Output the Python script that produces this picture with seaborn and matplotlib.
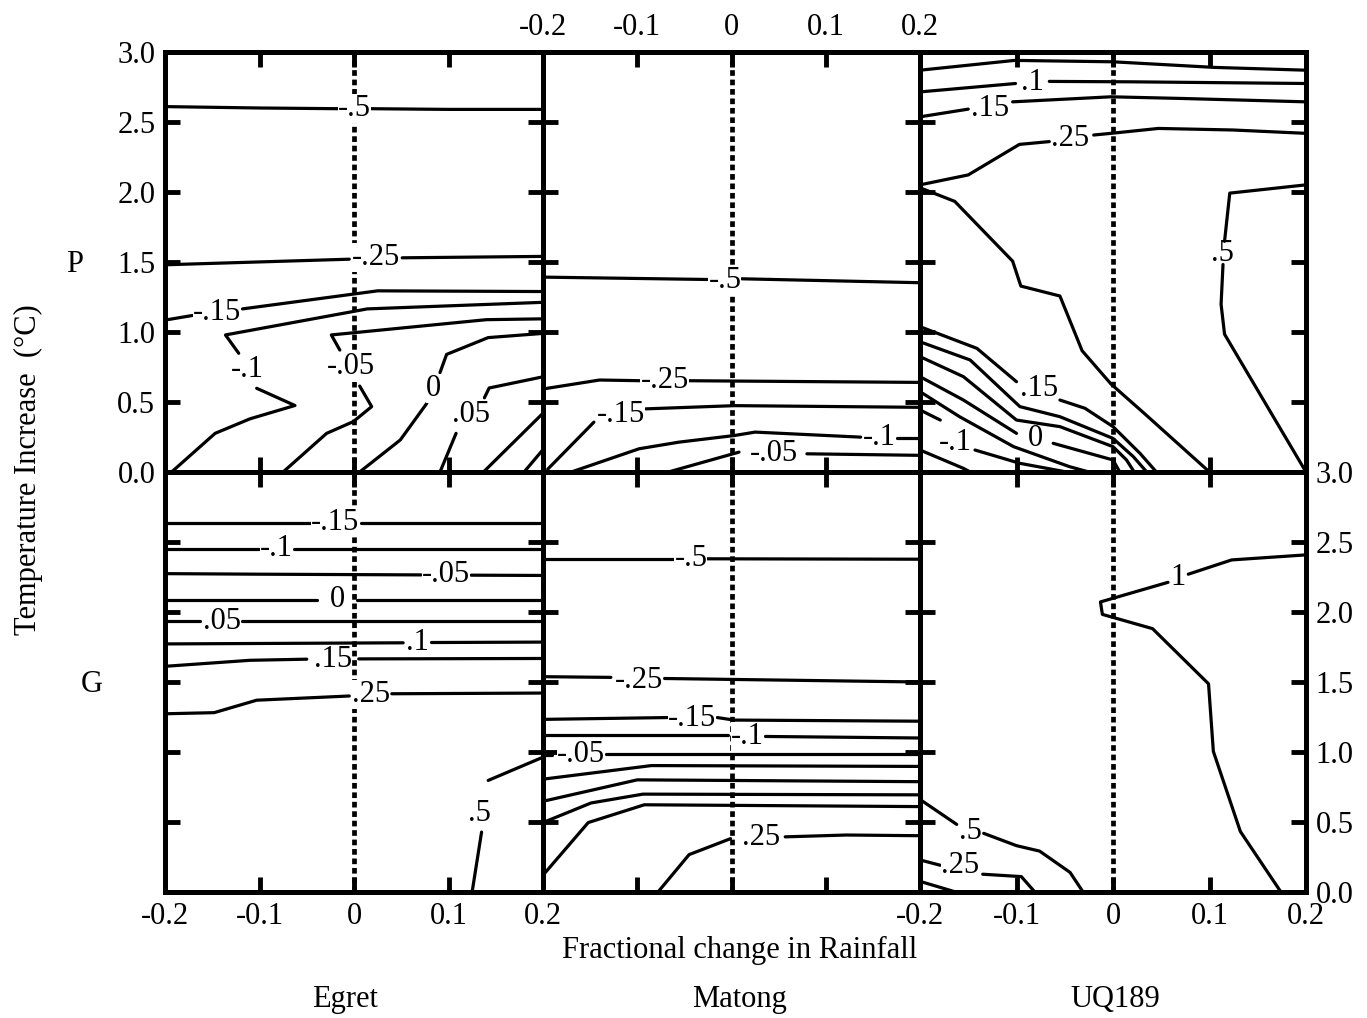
import numpy as np
import pandas as pd
import matplotlib
matplotlib.use("Agg")
import matplotlib.pyplot as plt
import seaborn as sns

N = np.nan

# ---------------- data: contours as (value label, xs, ys); NaN = gap for label ----------------
# Egret, P
egret_p_lines = [
    ("-.5",  [-0.2, -0.1, -0.017, N, 0.018, 0.1, 0.2], [2.61, 2.60, 2.595, N, 2.595, 2.59, 2.59]),
    ("-.25", [-0.2, -0.005, N, 0.051, 0.2], [1.48, 1.52, N, 1.53, 1.54]),
    ("-.15", [-0.2, -0.171, N, -0.118, 0.025, 0.2], [1.085, 1.118, N, 1.165, 1.294, 1.289]),
    ("-.1",  [-0.193, -0.147, -0.11, -0.0625, -0.103, N, -0.122, -0.136, 0.014, 0.2],
             [0.0, 0.276, 0.38, 0.475, 0.598, N, 0.848, 0.979, 1.165, 1.212]),
    ("-.05", [-0.075, -0.029, -0.0007, 0.0187, 0.006, N, -0.015, -0.024, 0.14, 0.2],
             [0.0, 0.276, 0.36, 0.467, 0.614, N, 0.871, 0.979, 1.088, 1.094]),
    ("0",    [0.006, 0.049, 0.077, N, 0.091, 0.098, 0.142, 0.2], [0.0, 0.229, 0.49, N, 0.71, 0.84, 0.96, 0.99]),
    (".05",  [0.091, 0.108, N, 0.138, 0.143, 0.2], [0.0, 0.276, N, 0.53, 0.60, 0.68]),
    ("",     [0.137, 0.2], [0.0, 0.42]),
    ("",     [0.18, 0.2], [0.0, 0.16]),
]
egret_p_labels = [("-.5", 0.0, 2.595), ("-.25", 0.023, 1.53), ("-.15", -0.145, 1.14),
                  ("-.1", -0.113, 0.73), ("-.05", -0.003, 0.75), ("0", 0.084, 0.60), (".05", 0.124, 0.41)]

# Egret, G
egret_g_lines = [
    ("-.15", [-0.2, -0.046, N, 0.007, 0.2], [2.636, 2.636, N, 2.636, 2.636]),
    ("-.1",  [-0.2, -0.101, N, -0.063, 0.2], [2.452, 2.452, N, 2.452, 2.452]),
    ("-.05", [-0.2, -0.1, 0.071, N, 0.124, 0.2], [2.274, 2.27, 2.265, N, 2.263, 2.261]),
    ("0",    [-0.2, -0.039, N, 0.003, 0.2], [2.088, 2.088, N, 2.088, 2.088]),
    (".05",  [-0.2, -0.163, N, -0.118, 0.2], [1.935, 1.935, N, 1.935, 1.935]),
    (".1",   [-0.2, 0.052, N, 0.082, 0.2], [1.772, 1.78, N, 1.782, 1.785]),
    (".15",  [-0.2, -0.11, -0.05, N, 0.005, 0.2], [1.612, 1.655, 1.663, N, 1.665, 1.668]),
    (".25",  [-0.2, -0.148, -0.103, -0.005, N, 0.04, 0.2], [1.273, 1.281, 1.37, 1.40, N, 1.416, 1.421]),
    (".5",   [0.125, 0.135, N, 0.142, 0.2], [0.0, 0.428, N, 0.797, 0.963]),
]
egret_g_labels = [("-.15", -0.02, 2.636), ("-.1", -0.082, 2.452), ("-.05", 0.097, 2.265), ("0", -0.018, 2.088),
                  (".05", -0.14, 1.935), (".1", 0.067, 1.78), (".15", -0.022, 1.66), (".25", 0.018, 1.41),
                  (".5", 0.133, 0.56)]

# Matong, P
matong_p_lines = [
    ("-.5",  [-0.2, -0.024, N, 0.011, 0.2], [1.392, 1.375, N, 1.38, 1.352]),
    ("-.25", [-0.2, -0.14, -0.096, N, -0.046, 0.2], [0.593, 0.657, 0.652, N, 0.652, 0.64]),
    ("-.15", [-0.195, -0.146, N, -0.091, 0.0035, 0.2], [0.02, 0.356, N, 0.451, 0.474, 0.462]),
    ("-.1",  [-0.17, -0.098, -0.056, 0.0035, 0.025, 0.137, N, 0.176, 0.2],
             [0.0, 0.166, 0.213, 0.261, 0.285, 0.249, N, 0.244, 0.244]),
    ("-.05", [-0.067, 0.008, N, 0.08, 0.2], [0.0, 0.142, N, 0.13, 0.119]),
]
matong_p_labels = [("-.5", -0.007, 1.37), ("-.25", -0.071, 0.652), ("-.15", -0.117, 0.41),
                   ("-.1", 0.157, 0.247), ("-.05", 0.045, 0.13)]

# Matong, G
matong_g_lines = [
    ("-.5",  [-0.2, -0.061, N, -0.026, 0.2], [2.382, 2.382, N, 2.38, 2.377]),
    ("-.25", [-0.2, -0.128, N, -0.071, 0.2], [1.538, 1.533, N, 1.525, 1.50]),
    ("-.15", [-0.2, -0.068, N, -0.015, 0.0026, 0.2], [1.233, 1.246, N, 1.246, 1.228, 1.22]),
    ("-.1",  [-0.2, -0.004, N, 0.036, 0.2], [1.119, 1.119, N, 1.111, 1.10]),
    ("-.05", [-0.2, -0.19, N, -0.133, 0.2], [0.98, 0.98, N, 0.984, 0.984]),
    ("",     [-0.2, -0.085, 0.2], [0.806, 0.903, 0.897]),
    ("",     [-0.2, -0.1, 0.2], [0.648, 0.801, 0.788]),
    ("",     [-0.2, -0.149, -0.094, 0.2], [0.496, 0.636, 0.699, 0.694]),
    ("",     [-0.2, -0.152, -0.0925, 0.2], [0.12, 0.496, 0.623, 0.61]),
    (".25",  [-0.078, -0.045, -0.001, N, 0.057, 0.122, 0.2], [0.0, 0.267, 0.381, N, 0.394, 0.407, 0.402]),
]
matong_g_labels = [("-.5", -0.043, 2.38), ("-.25", -0.098, 1.51), ("-.15", -0.042, 1.24),
                   ("-.1", 0.017, 1.11), ("-.05", -0.16, 0.98), (".25", 0.031, 0.39)]

# UQ189, P
uq_p_lines = [
    ("",     [-0.2, -0.102, 0.0, 0.105, 0.2], [2.87, 2.94, 2.93, 2.89, 2.87]),
    (".1",   [-0.2, -0.101, N, -0.066, 0.019, 0.2], [2.715, 2.775, N, 2.79, 2.787, 2.775]),
    (".15",  [-0.2, -0.15, N, -0.104, -0.002, 0.072, 0.2], [2.537, 2.592, N, 2.644, 2.68, 2.668, 2.644]),
    (".25",  [-0.2, -0.15, -0.097, -0.066, N, -0.02, -0.002, 0.047, 0.124, 0.2],
             [2.051, 2.122, 2.34, 2.36, N, 2.407, 2.419, 2.454, 2.443, 2.419]),
    ("",     [-0.2, -0.164, -0.104, -0.0955, -0.055, -0.032, -0.002, 0.033, 0.1],
             [2.03, 1.933, 1.506, 1.328, 1.257, 0.866, 0.628, 0.415, 0.0]),
    (".5",   [0.2, 0.121, 0.1156, N, 0.114, 0.112, 0.1156, 0.2], [2.051, 1.992, 1.648, N, 1.482, 1.198, 0.984, 0.0]),
    (".15",  [-0.2, -0.141, -0.100, N, -0.055, -0.029, 0.0, 0.028, 0.045],
             [1.038, 0.883, 0.645, N, 0.514, 0.455, 0.324, 0.133, 0.0]),
    ("",     [-0.2, -0.148, -0.0965, -0.055, 0.0, 0.021, 0.035], [0.93, 0.80, 0.467, 0.395, 0.24, 0.11, 0.0]),
    ("",     [-0.2, -0.155, -0.1, -0.055, 0.0, 0.014, 0.022], [0.824, 0.681, 0.371, 0.324, 0.181, 0.086, 0.0]),
    ("0",    [-0.2, -0.155, -0.1, N, -0.062, 0.0, 0.007], [0.681, 0.514, 0.276, N, 0.205, 0.086, 0.0]),
    ("",     [-0.2, -0.159, -0.103, -0.045, -0.025], [0.574, 0.395, 0.181, 0.038, 0.0]),
    ("-.1",  [-0.2, -0.179, N, -0.143, -0.0965, -0.048], [0.443, 0.371, N, 0.157, 0.062, 0.0]),
    ("",     [-0.2, -0.155, -0.148], [0.157, 0.026, 0.0]),
]
uq_p_labels = [(".1", -0.083, 2.78), (".15", -0.127, 2.60), (".25", -0.044, 2.38), (".5", 0.113, 1.56),
               (".15", -0.077, 0.60), ("0", -0.08, 0.24), ("-.1", -0.163, 0.21)]

# UQ189, G
uq_g_lines = [
    ("1",    [0.2, 0.123, 0.078, N, 0.057, -0.013, -0.011, 0.041, 0.099, 0.104, 0.132, 0.174],
             [2.408, 2.372, 2.27, N, 2.212, 2.072, 1.983, 1.881, 1.487, 1.004, 0.432, 0.0]),
    (".5",   [-0.2, -0.162, N, -0.134, -0.1, -0.076, -0.0445, -0.031], [0.661, 0.483, N, 0.419, 0.331, 0.292, 0.14, 0.0]),
    (".25",  [-0.2, -0.179, N, -0.135, -0.095, -0.081], [0.229, 0.191, N, 0.127, 0.11, 0.0]),
    ("",     [-0.2, -0.163], [0.076, 0.0]),
]
uq_g_labels = [("1", 0.067, 2.245), (".5", -0.148, 0.43), (".25", -0.158, 0.19)]

xtick_vals = [-0.2, -0.1, 0.0, 0.1, 0.2]
xtick_text = ["-0.2", "-0.1", "0", "0.1", "0.2"]
ytick_vals = [0.0, 0.5, 1.0, 1.5, 2.0, 2.5, 3.0]
ytick_text = ["0.0", "0.5", "1.0", "1.5", "2.0", "2.5", "3.0"]
models = ["Egret", "Matong", "UQ189"]
rows_names = ["P", "G"]

# ---------------- style ----------------
sns.set_theme(style="white", rc={
    "axes.edgecolor": "black", "xtick.color": "black", "ytick.color": "black",
    "text.color": "black", "axes.labelcolor": "black",
})
plt.rcParams["font.family"] = ["Liberation Serif", "DejaVu Serif"]
FS = 22

W, H = 1367, 1018
fig = plt.figure(figsize=(W / 100, H / 100), dpi=100)

col_px = [(165, 543), (543, 920), (920, 1306)]
row_px = [(52, 472), (472, 892)]


def to_df(lines):
    recs = []
    uid = 0
    for _, xs, ys in lines:
        for x, y in zip(xs, ys):
            if np.isnan(x):
                uid += 1
                continue
            recs.append((x, y, uid))
        uid += 1
    return pd.DataFrame(recs, columns=["x", "y", "seg"])


panel_data = {
    (0, 0): (egret_p_lines, egret_p_labels),
    (0, 1): (matong_p_lines, matong_p_labels),
    (0, 2): (uq_p_lines, uq_p_labels),
    (1, 0): (egret_g_lines, egret_g_labels),
    (1, 1): (matong_g_lines, matong_g_labels),
    (1, 2): (uq_g_lines, uq_g_labels),
}

for (r, c), (lines, labels) in panel_data.items():
    x0, x1 = col_px[c]
    y0, y1 = row_px[r]
    ax = fig.add_axes([x0 / W, 1 - y1 / H, (x1 - x0) / W, (y1 - y0) / H])
    ax.set_facecolor("white")
    df = to_df(lines)
    sns.lineplot(data=df, x="x", y="y", units="seg", estimator=None, sort=False,
                 color="black", linewidth=2.3, ax=ax, legend=False, zorder=3)
    ax.axvline(0, color="black", linewidth=3.4, linestyle=(0, (1.2, 0.8)), zorder=1)
    dense = (r, c) == (0, 2)
    for txt, lx, ly in labels:
        ax.text(lx, ly, txt, ha="center", va="center", fontsize=FS,
                zorder=2 if dense else 4,
                bbox=dict(boxstyle="square,pad=0.0", fc="white", ec="none"))
    ax.set_xlim(-0.2, 0.2)
    ax.set_ylim(0, 3)
    ax.set_xlabel("")
    ax.set_ylabel("")
    ax.set_xticks(xtick_vals)
    ax.set_yticks(ytick_vals)
    ax.tick_params(direction="in", length=11, width=3.5, top=True, right=True,
                   bottom=True, left=True, labelbottom=False, labelleft=False,
                   labeltop=False, labelright=False, labelsize=FS, pad=7)
    for s in ax.spines.values():
        s.set_linewidth(3.6)
        s.set_color("black")
    ax.set_xticklabels(xtick_text)
    ax.set_yticklabels(ytick_text)
    if (r, c) == (0, 0):
        ax.tick_params(labelleft=True)
    if (r, c) == (0, 1):
        ax.tick_params(labeltop=True)
    if (r, c) == (1, 0):
        ax.tick_params(labelbottom=True)
    if (r, c) == (1, 2):
        ax.tick_params(labelbottom=True, labelright=True)

fig.text(28 / W, 1 - 470 / H, "Temperature Increase  (°C)", rotation=90, ha="center", va="center", fontsize=FS)
fig.text(75 / W, 1 - 265 / H, rows_names[0], ha="center", va="center", fontsize=FS)
fig.text(92 / W, 1 - 685 / H, rows_names[1], ha="center", va="center", fontsize=FS)
fig.text(740 / W, 1 - 950 / H, "Fractional change in Rainfall", ha="center", va="center", fontsize=FS)
for name, xc in zip(models, [345, 740, 1115]):
    fig.text(xc / W, 1 - 1000 / H, name, ha="center", va="center", fontsize=FS)

fig.savefig("out.png", dpi=100, facecolor="white")
